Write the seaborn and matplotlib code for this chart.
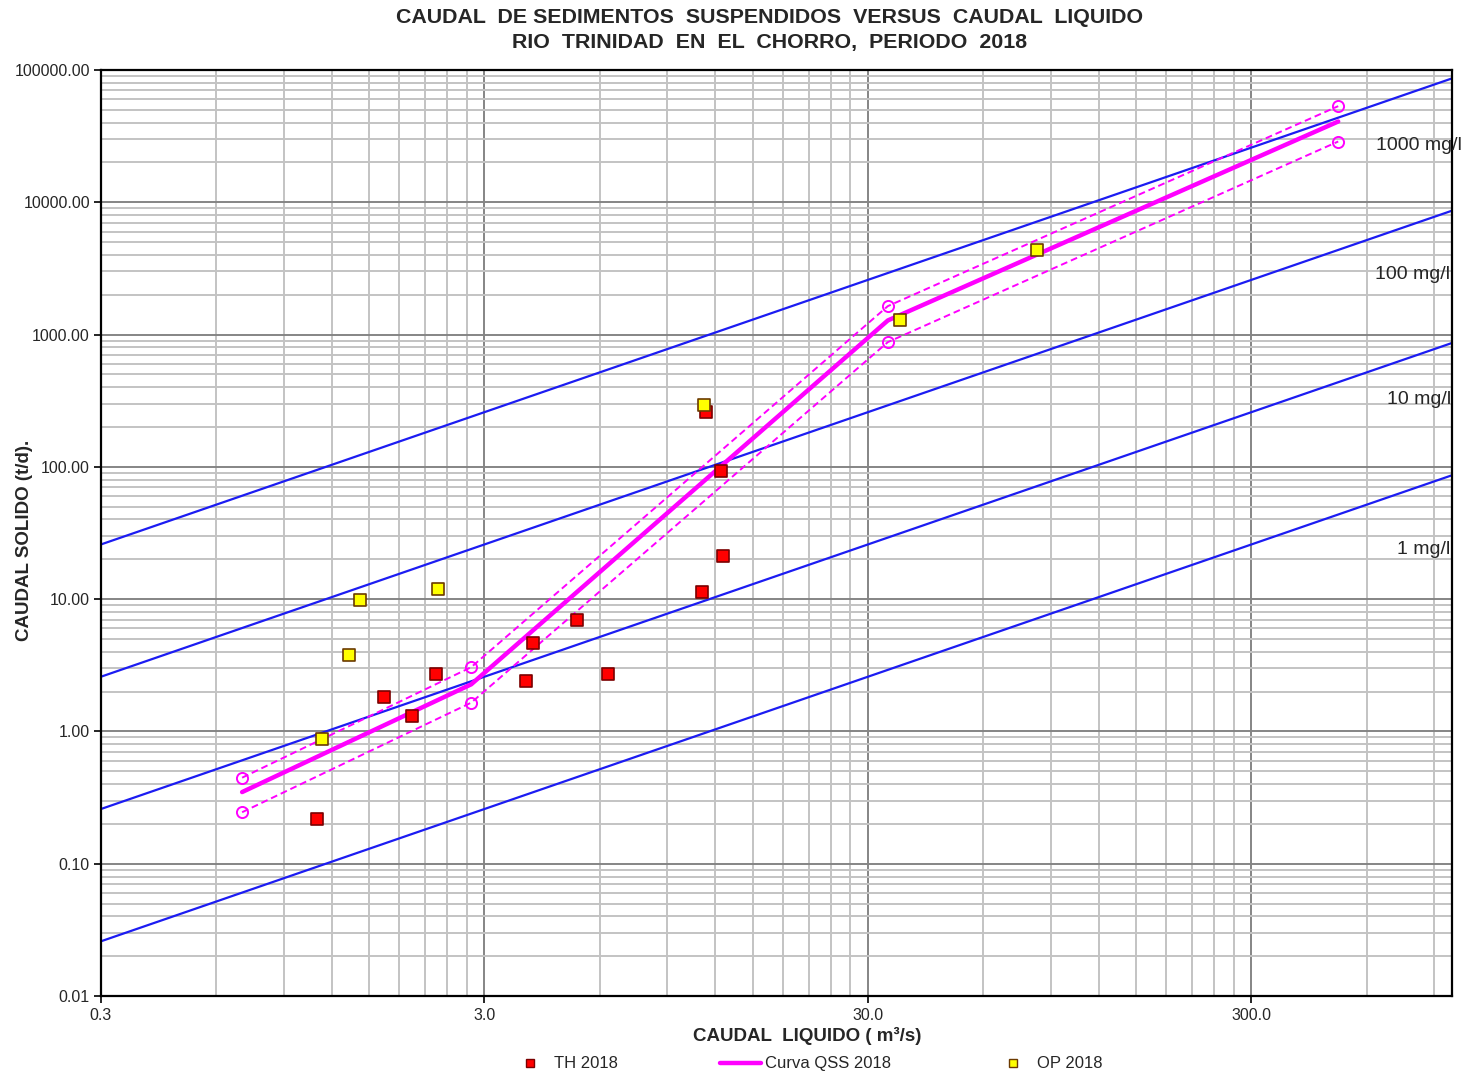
import numpy as np
import pandas as pd
import matplotlib
matplotlib.use("Agg")
import matplotlib.pyplot as plt
from matplotlib.ticker import FixedLocator, FormatStrFormatter, NullFormatter
from matplotlib.lines import Line2D
import seaborn as sns

# Aforos 2018: caudal liquido (m3/s) y caudal solido (t/d)
th_q = [1.10, 1.64, 1.94, 2.24, 3.86, 4.02, 5.23, 6.30, 11.08, 11.35, 12.42, 12.56]
th_qs = [0.216, 1.81, 1.305, 2.73, 2.39, 4.63, 6.90, 2.70, 11.4, 259, 92.3, 21.3]
op_q = [1.13, 1.33, 1.42, 2.27, 11.21, 36.3, 82.7]
op_qs = [0.881, 3.80, 9.78, 11.99, 295, 1295, 4347]

# Curva de sedimentos y su banda
curve_q = [0.70, 2.77, 33.8, 505]
curve_qs = [0.348, 2.27, 1279, 40800]
upper_qs = [0.447, 3.06, 1641, 53300]
lower_qs = [0.245, 1.65, 877, 28800]

# Lineas de igual concentracion
conc_mgl = [1, 10, 100, 1000]
conc_labels = ["1 mg/l", "10 mg/l", "100 mg/l", "1000 mg/l"]
q_range = [0.3, 1000.0]

sns.set_theme(style="white")
plt.rcParams["font.family"] = ["Liberation Sans", "DejaVu Sans"]

fig = plt.figure(figsize=(14.68, 10.73), dpi=100)
ax = fig.add_axes([101 / 1468, 1 - 996 / 1073, 1351 / 1468, 926 / 1073])
ax.set_xscale("log")
ax.set_yscale("log")
ax.set_xlim(q_range)
ax.set_ylim(0.01, 100000)

# grid: multiples of 0.3 on x, 1..9 per decade on y
xmaj = [0.3, 3.0, 30.0, 300.0]
xmin = [0.3 * k * 10 ** n for n in range(4) for k in range(2, 10) if 0.3 * k * 10 ** n < 1000]
ymaj = [10.0 ** n for n in range(-2, 6)]
ymin = [k * 10.0 ** n for n in range(-2, 5) for k in range(2, 10)]
ax.xaxis.set_major_locator(FixedLocator(xmaj))
ax.xaxis.set_minor_locator(FixedLocator(xmin))
ax.yaxis.set_major_locator(FixedLocator(ymaj))
ax.yaxis.set_minor_locator(FixedLocator(ymin))
ax.xaxis.set_major_formatter(FormatStrFormatter("%.1f"))
ax.yaxis.set_major_formatter(FormatStrFormatter("%.2f"))
ax.xaxis.set_minor_formatter(NullFormatter())
ax.yaxis.set_minor_formatter(NullFormatter())
ax.grid(which="minor", color="#c3c3c3", lw=1.4, zorder=0)
ax.grid(which="major", color="#858585", lw=1.4, zorder=0)
ax.set_axisbelow(True)
ax.tick_params(which="major", length=5, width=1.2, color="black", labelsize=11.5,
               direction="out", pad=3, left=True, bottom=True)
ax.tick_params(axis="x", pad=4)
ax.tick_params(which="minor", length=0)
for s in ax.spines.values():
    s.set_color("black")
    s.set_linewidth(1.6)

# concentration lines: Qs[t/d] = 0.0864 * C[mg/l] * Q[m3/s]
for c in conc_mgl:
    df = pd.DataFrame({"q": q_range, "qs": [0.0864 * c * q for q in q_range]})
    sns.lineplot(data=df, x="q", y="qs", ax=ax, color="#1c1cf2", lw=1.6, zorder=2)

label_pos = [(0.959, 0.482), (0.952, 0.644), (0.943, 0.779), (0.9435, 0.919)]
for lab, (px, py) in zip(conc_labels, label_pos):
    ax.text(px, py, lab, transform=ax.transAxes, fontsize=14, ha="left", va="center",
            clip_on=False, zorder=6)

# band and curve
band = pd.DataFrame({"q": curve_q, "up": upper_qs, "lo": lower_qs, "mid": curve_qs})
for col in ["up", "lo"]:
    sns.lineplot(data=band, x="q", y=col, ax=ax, color="#ff00ff", lw=1.4,
                 linestyle=(0, (3.5, 2)), marker="o", markersize=8,
                 markerfacecolor="none", markeredgecolor="#ff00ff",
                 markeredgewidth=1.4, zorder=3)
sns.lineplot(data=band, x="q", y="mid", ax=ax, color="#ff00ff", lw=3.2, zorder=3)

th = pd.DataFrame({"q": th_q, "qs": th_qs})
op = pd.DataFrame({"q": op_q, "qs": op_qs})
sns.scatterplot(data=th, x="q", y="qs", ax=ax, marker="s", s=72, color="#ff0000",
                edgecolor="#7a0000", linewidth=1.2, zorder=4)
sns.scatterplot(data=op, x="q", y="qs", ax=ax, marker="s", s=72, color="#ffff00",
                edgecolor="#6b3a00", linewidth=1.2, zorder=5)

ax.set_xlabel("CAUDAL  LIQUIDO ( m³/s)", fontsize=13.5, fontweight="bold")
ax.set_ylabel("CAUDAL SOLIDO (t/d).", fontsize=13.5, fontweight="bold")
ax.xaxis.set_label_coords(0.5226, -0.033)
ax.yaxis.set_label_coords(-0.050, 0.492)

fig.text(0.524, 0.993, "CAUDAL  DE SEDIMENTOS  SUSPENDIDOS  VERSUS  CAUDAL  LIQUIDO\nRIO  TRINIDAD  EN  EL  CHORRO,  PERIODO  2018",
         ha="center", va="top", fontsize=15.4, fontweight="bold", linespacing=1.4)

handles = [
    Line2D([], [], linestyle="none", marker="s", markersize=6, markerfacecolor="#ff0000",
           markeredgecolor="#7a0000"),
    Line2D([], [], color="#ff00ff", lw=3.2),
    Line2D([], [], linestyle="none", marker="s", markersize=6, markerfacecolor="#ffff00",
           markeredgecolor="#6b3a00"),
]
fig.legend(handles, ["TH 2018", "Curva QSS 2018", "OP 2018"], loc="center",
           bbox_to_anchor=(0.549, 0.0085), ncol=3, frameon=False, fontsize=12,
           handlelength=2.5, handletextpad=0.2, columnspacing=6.1)

fig.savefig("out.png", dpi=100)
